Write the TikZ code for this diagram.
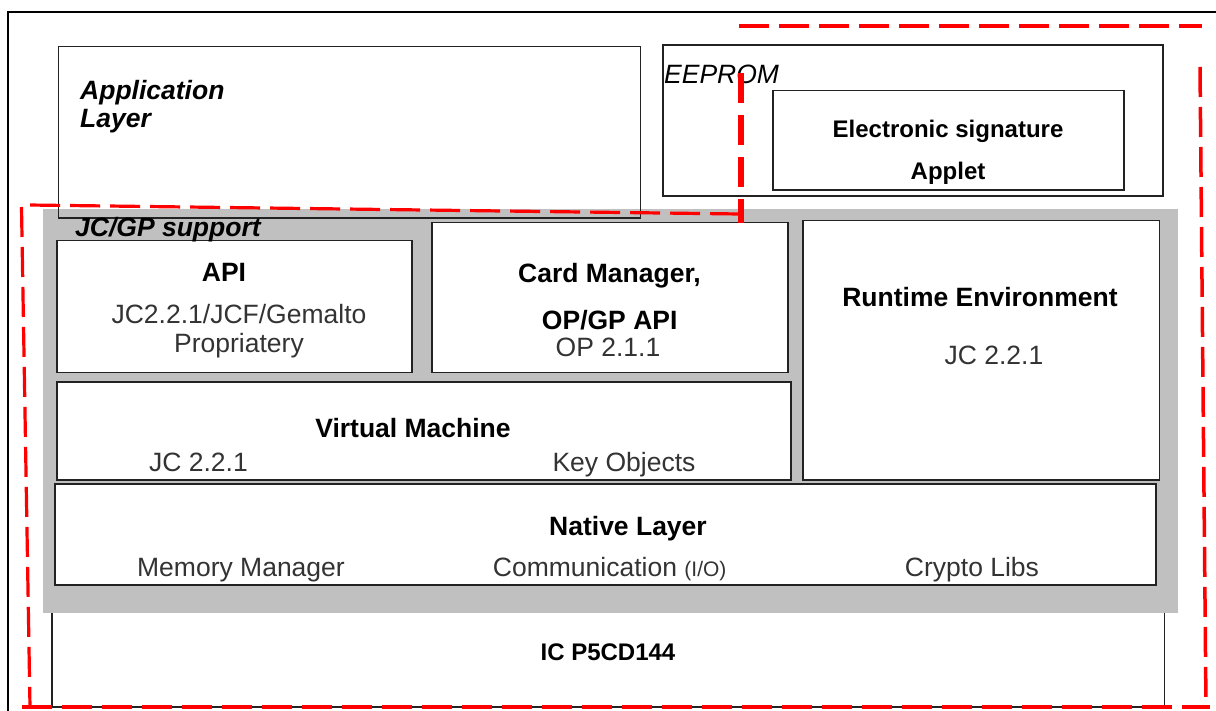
\documentclass[tikz,border=0pt]{standalone}
\usepackage{fontspec}
\setmainfont{Liberation Sans}
\definecolor{boxc}{HTML}{222222}
\definecolor{txt}{HTML}{333333}
\definecolor{panel}{HTML}{C0C0C0}
\definecolor{dred}{HTML}{FF0000}
\begin{document}
\begin{tikzpicture}[x=1pt,y=-1pt,
  box/.style={draw=boxc, line width=1.6pt, fill=white, inner sep=0pt, rectangle},
  openbox/.style={draw=boxc, line width=1.6pt, inner sep=0pt, rectangle},
  bt/.style={font=\fontsize{26.5}{30}\selectfont\bfseries, anchor=base, inner sep=0pt},
  rt/.style={font=\fontsize{26.5}{30}\selectfont, text=txt, anchor=base, inner sep=0pt},
  st/.style={font=\fontsize{24}{28}\selectfont\bfseries, anchor=base, inner sep=0pt},
  bit/.style={font=\fontsize{26.5}{30}\selectfont\bfseries\itshape, anchor=base west, inner sep=0pt},
  rit/.style={font=\fontsize{26.5}{30}\selectfont\itshape, anchor=base west, inner sep=0pt},
  reddash/.style={draw=dred, dash pattern=on 30pt off 10pt}
]
\useasboundingbox (0,0) rectangle (1216,711);
\fill[white] (0,0) rectangle (1216,711);

% IC box (top hidden under the grey panel)
\node[box, minimum width=1112.6pt, minimum height=107pt] (ic) at (608,653.5) {};
% grey JC/GP support panel
\node[fill=panel, inner sep=0pt, minimum width=1135.6pt, minimum height=403.4pt] (panel) at (610.5,411) {};
% application layer (outline only, over the panel)
\node[openbox, minimum width=582.2pt, minimum height=171.6pt] (app) at (349.4,132.5) {};
% EEPROM
\node[box, minimum width=500.3pt, minimum height=151pt] (eeprom) at (912.85,120.5) {};
\node[box, minimum width=351.1pt, minimum height=99.3pt] (esig) at (948.25,140.35) {};
% inner boxes
\node[box, minimum width=355pt, minimum height=132pt] (api) at (234.2,306.7) {};
\node[box, minimum width=356pt, minimum height=150pt] (card) at (609.7,297.7) {};
\node[box, minimum width=356.6pt, minimum height=259.3pt] (rte) at (981,350.35) {};
\node[box, minimum width=734pt, minimum height=98.3pt] (vm) at (423.7,430.85) {};
\node[box, minimum width=1100.7pt, minimum height=101pt] (native) at (605.35,534.5) {};

% texts
\node[bit] (tapp1) at (80,100) {Application};
\node[bit] (tapp2) at (80,128) {Layer};
\node[rit] (teep) at (664,84) {EEPROM};
\node[st] (tes1) at (948,138) {Electronic signature};
\node[st] (tes2) at (948,180) {Applet};
\node[bit] (tjc) at (75,237) {JC/GP support};
\node[bt] (tapi) at (224,281.7) {API};
\node[rt] (tapi2) at (239,324) {JC2.2.1/JCF/Gemalto};
\node[rt] (tapi3) at (239,353) {Propriatery};
\node[bt] (tcard1) at (609.5,283) {Card Manager,};
\node[bt] (tcard2) at (609.7,330) {OP/GP API};
\node[rt] (tcard3) at (608,357) {OP 2.1.1};
\node[bt] (trte1) at (980,307) {Runtime Environment};
\node[rt] (trte2) at (994,365) {JC 2.2.1};
\node[bt] (tvm1) at (413,437) {Virtual Machine};
\node[rt] (tvm2) at (198.5,471) {JC 2.2.1};
\node[rt] (tvm3) at (624,471) {Key Objects};
\node[bt] (tnat) at (628,535) {Native Layer};
\node[rt] (tnat1) at (241,576.5) {Memory Manager};
\node[rt] (tnat2) at (609.7,576.5) {Communication {\fontsize{21}{24}\selectfont(I/O)}};
\node[rt] (tnat3) at (972,576.5) {Crypto Libs};
\node[st] (tic) at (608,660.7) {IC P5CD144};

% red dashed boundaries
\coordinate (r1) at (741,73);
\coordinate (r2) at (741,223);
\coordinate (l1) at (740,214);
\coordinate (l2) at (22,205);
\coordinate (l3) at (30,707);
\coordinate (b2) at (1210,707);
\coordinate (t1) at (739,26);
\coordinate (t2) at (1202,26);
\coordinate (v1) at (1200,67);
\coordinate (v2) at (1206,707);
\draw[reddash, line width=6pt, dash pattern=on 30pt off 12pt] (r1) -- (r2);
\draw[reddash, line width=3.2pt] (l1) -- (28,205);
\draw[reddash, line width=3.2pt] (21.5,207) -- (l3);
\draw[reddash, line width=4.5pt] (22,707) -- (b2);
\draw[reddash, line width=4.5pt] (t1) -- (t2);
\draw[reddash, line width=3.5pt] (v1) -- (v2);

% outer black frame
\draw[black, line width=2.5pt] (8,711) -- (8,12) -- (1216,12);
\end{tikzpicture}
\end{document}
